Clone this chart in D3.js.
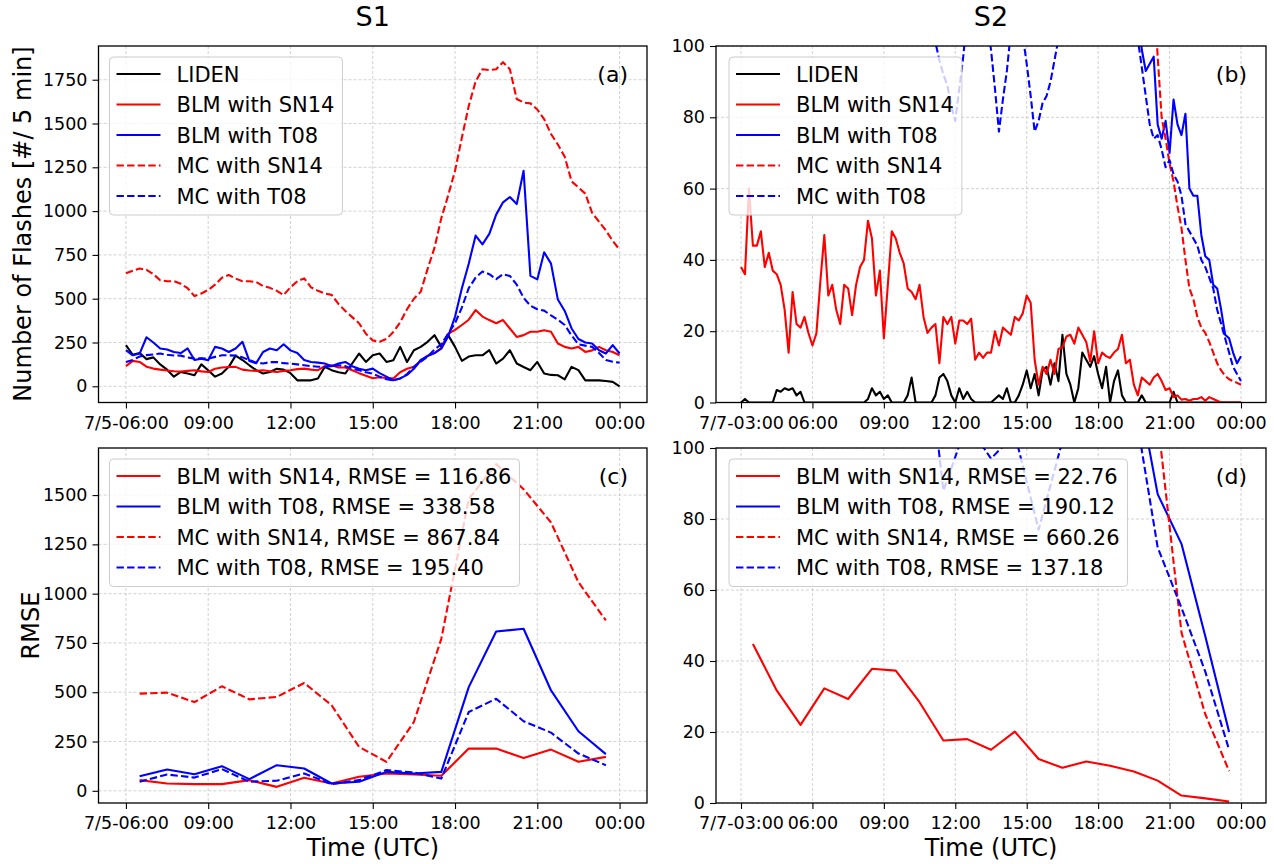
<!DOCTYPE html>
<html>
<head>
<meta charset="utf-8">
<script src="https://cdn.jsdelivr.net/npm/d3@7"></script>
<style>
  body { margin: 0; background: #fff; }
  text { font-family: "DejaVu Sans", sans-serif; fill: #000; }
</style>
</head>
<body>
<div id="chart"></div>
<script>
// ---------- data ----------
// S1: 15-min samples, 7/5 06:00 -> 7/6 00:00 (hours since 7/5 00:00)
const s1Start = 6, s1Step = 0.25;
const s1Liden = [235,180,190,155,165,125,95,55,82,73,63,125,92,55,73,111,175,150,120,92,73,82,100,95,
  75,34,34,34,45,111,92,80,73,130,187,139,177,187,139,149,225,139,206,225,254,292,225,292,
  225,145,170,177,177,206,130,158,206,130,110,92,139,73,65,63,40,111,92,34,34,34,30,25,0];
const s1BlmSn14 = [115,145,139,112,101,95,90,86,84,88,92,85,82,100,107,110,111,95,90,88,92,86,82,88,
  92,98,101,95,92,115,120,107,107,92,75,60,46,52,47,45,80,100,111,145,175,190,216,300,
  322,350,380,435,398,378,360,378,330,282,292,311,311,320,311,244,225,216,225,196,205,225,206,196,177];
const s1BlmT08 = [206,177,187,280,250,216,210,196,190,216,150,158,149,225,216,196,216,254,145,132,196,216,206,240,
  205,190,150,139,135,130,115,130,139,115,100,92,101,75,55,34,45,65,100,150,172,190,216,285,
  397,560,700,860,810,870,980,1050,1080,1040,1230,630,610,765,700,495,430,330,270,250,244,206,187,235,187];
const s1McSn14 = [645,660,672,665,640,605,600,600,585,560,515,530,550,580,620,635,615,600,600,595,572,562,545,521,
  565,600,616,565,545,530,522,470,430,395,360,300,262,254,270,310,365,440,500,540,670,790,960,1090,
  1230,1420,1600,1740,1810,1805,1810,1850,1810,1640,1620,1615,1580,1525,1440,1380,1310,1170,1135,1100,990,940,890,830,780];
const s1McT08 = [139,150,170,178,182,187,180,176,175,165,158,160,158,168,177,177,175,165,150,135,130,138,138,132,
  130,125,120,115,112,110,115,120,115,100,92,80,72,55,40,34,45,70,111,140,170,210,240,300,
  360,450,560,620,655,640,612,640,630,580,505,460,440,432,405,380,350,290,240,232,225,190,150,140,135];

// S2: 10-min samples, 7/7 03:00 -> 7/8 00:00 (hours since 7/7 00:00); null = off the top of the plot
const s2Start = 3, s2Step = 1 / 6;
const s2Liden = [0,1,0,0,0,0,0,0,0,3.5, 3,4,3.5,4,2,3,0,0,0,0, 0,0,0,0,0,0,0,0,0,0,
  0,0,1,4,2,3,1,2,0,0, 0,0,2,7,0,0,0,0,0,2, 7,8,6,2,0,4,1,3,1,0, 0,0,0,0,1,2,1,4,0,0,
  2,5,9,4,8,2,9,10,5,11, 6,19,8,5,0,4,14,12,10,13, 8,4,10,0,6,9,2,0,0,0,
  0,2,0,0,0,0,0,0,0,3, 0,0,0,0,0,0,0,0,0,0, 0,0,0,0,0,0,0];
const s2BlmSn14 = [38,36,60,44,44,48,38,42,37,36, 33,26,14,31,22,21,24,19.5,16,19.4,
  34,47,30,33,26,22,33,32,24.5,33, 38,40,51,46,30,37,18,33,48,46,
  42,39,32,31,29,33,24,19.5,21,22, 11,24,22,24,16.5,23,23,22,23.5,12,
  14,12.5,14,14,20,16,21,20,19,24, 23,25,30,28,12,5,10,8,12,8,
  15,15.5,18.5,19,16.5,21,19,17,11.5,20, 11,14,13,12.5,14,15,19,11,12,5,
  2,7,6,5,7,8,6,3.5,4,1.5, 2,0.8,1,0.5,1,1,1.5,0.5,1.5,1, 0.5,0,0,0,0,0,0];
const s2BlmT08 = Array(99).fill(null).concat([130,110,99,93,95,97,78,74,79,70,85,78,75,81,60,58,58,47,41,40,33,32,26,19,18,14,11,13]);
const s2McSn14 = Array(103).fill(null).concat([135,118,97,80,74,67,62,55,49,40,32,29,24,21,19.5,17,14,11,9,7.5,6.5,6,5.5,5]);
const s2McT08 = Array(48).fill(null).concat([115,101,96,92,89,83,79,88,97,108,120,118,115,110,106,99,88,76,85,93,
  104,112,110,103,95,86,76,79,84,86,90,96,102,115]).concat(Array(17).fill(null))
  .concat([115,102,94,86,78,74,75,71,66,68,64,62,58,50,48,46,44,40,38,35,32,26,22,18,14,10,8,6]);

// RMSE, hourly (centred on the half hour)
const c1Hours = [6.5,7.5,8.5,9.5,10.5,11.5,12.5,13.5,14.5,15.5,16.5,17.5,18.5,19.5,20.5,21.5,22.5,23.5];
const c1BlmSn14 = [54,37,34,34,54,20,66,37,71,88,83,76,214,214,167,209,147,172];
const c1BlmT08 = [74,108,84,125,59,130,113,37,46,96,88,96,526,808,822,509,302,186];
const c1McSn14 = [493,498,450,530,464,476,547,434,223,147,349,771,1480,1657,1530,1361,1058,864];
const c1McT08 = [46,83,67,110,46,51,88,34,54,105,93,62,400,467,353,295,189,130];

const c2Hours = [3.5,4.5,5.5,6.5,7.5,8.5,9.5,10.5,11.5,12.5,13.5,14.5,15.5,16.5,17.5,18.5,19.5,20.5,21.5,22.5,23.5];
const c2BlmSn14 = [44.8,31.7,22,32.3,29.3,37.8,37.3,28.4,17.6,18,15,20.1,12.4,9.9,11.7,10.5,8.9,6.3,2.1,1.3,0.4];
const c2BlmT08 = [null,null,null,null,null,null,null,null,null,null,null,null,null,null,null,null,123,87,73,47,20];
const c2McSn14 = [null,null,null,null,null,null,null,null,null,null,null,null,null,null,null,null,null,108,48,25,9];
const c2McT08 = [null,null,null,null,null,null,null,147,88,107,97,104,77,102,140,160,113,72,55,37,15];

const s1TickHours = [6, 9, 12, 15, 18, 21, 24];
const s1TickLabels = ["7/5-06:00", "09:00", "12:00", "15:00", "18:00", "21:00", "00:00"];
const s2TickHours = [3, 6, 9, 12, 15, 18, 21, 24];
const s2TickLabels = ["7/7-03:00", "06:00", "09:00", "12:00", "15:00", "18:00", "21:00", "00:00"];

const RED = "#ff0000", BLUE = "#0000ff", BLACK = "#000000";
const DASH = "7.4,3.2";

function grid(start, step, values) {
    return values.map((v, i) => ({ t: start + i * step, v: v }));
}
function pairs(hours, values) {
    return hours.map((h, i) => ({ t: h, v: values[i] }));
}

// ---------- drawing ----------
const svg = d3.select("#chart").append("svg")
    .attr("width", 1274)
    .attr("height", 864);

Panel = function(cfg) {
    this.cfg = cfg;
    this.initVis();
};

Panel.prototype.initVis = function() {
    var vis = this;
    const c = vis.cfg;

    vis.width = c.right - c.left;
    vis.height = c.bottom - c.top;

    let yDomain = c.yDomain;
    if (!yDomain) {
        const all = [];
        c.series.forEach(s => s.data.forEach(d => { if (d.v != null) all.push(d.v); }));
        const ext = d3.extent(all);
        const pad = (ext[1] - ext[0]) * 0.05;
        yDomain = [ext[0] - pad, ext[1] + pad];
    }

    vis.x = d3.scaleLinear().domain(c.xDomain).range([0, vis.width]);
    vis.y = d3.scaleLinear().domain(yDomain).range([vis.height, 0]);

    vis.g = svg.append("g").attr("transform", `translate(${c.left},${c.top})`);

    vis.g.append("clipPath").attr("id", "clip-" + c.id)
        .append("rect").attr("width", vis.width).attr("height", vis.height);

    // grid
    vis.g.append("g").selectAll("line.gx")
        .data(c.xTicks).join("line")
        .attr("x1", d => vis.x(d)).attr("x2", d => vis.x(d))
        .attr("y1", 0).attr("y2", vis.height)
        .attr("stroke", "#b0b0b0").attr("stroke-width", 0.8)
        .attr("stroke-dasharray", "3,2").attr("opacity", 0.7);
    vis.g.append("g").selectAll("line.gy")
        .data(c.yTicks).join("line")
        .attr("y1", d => vis.y(d)).attr("y2", d => vis.y(d))
        .attr("x1", 0).attr("x2", vis.width)
        .attr("stroke", "#b0b0b0").attr("stroke-width", 0.8)
        .attr("stroke-dasharray", "3,2").attr("opacity", 0.7);

    // lines
    const line = d3.line()
        .defined(d => d.v != null)
        .x(d => vis.x(d.t))
        .y(d => vis.y(d.v));

    vis.g.append("g").attr("clip-path", `url(#clip-${c.id})`)
        .selectAll("path")
        .data(c.series).join("path")
        .attr("d", d => line(d.data))
        .attr("fill", "none")
        .attr("stroke", d => d.color)
        .attr("stroke-width", 2.1)
        .attr("stroke-linejoin", "round")
        .attr("stroke-dasharray", d => d.dash ? DASH : null);

    // axes
    const xAxis = d3.axisBottom(vis.x)
        .tickValues(c.xTicks)
        .tickFormat((d, i) => c.xLabels[i])
        .tickSize(6).tickPadding(8);
    const yAxis = d3.axisLeft(vis.y)
        .tickValues(c.yTicks)
        .tickFormat(d3.format("d"))
        .tickSize(6).tickPadding(5);

    const gx = vis.g.append("g").attr("transform", `translate(0,${vis.height})`).call(xAxis);
    const gy = vis.g.append("g").call(yAxis);
    [gx, gy].forEach(a => {
        a.select(".domain").remove();
        a.selectAll(".tick line").attr("stroke", "#000").attr("stroke-width", 1.1);
        a.selectAll(".tick text").attr("font-size", "17.5px").attr("font-family", "DejaVu Sans").attr("fill", "#000");
    });

    // frame
    vis.g.append("rect")
        .attr("width", vis.width).attr("height", vis.height)
        .attr("fill", "none").attr("stroke", "#000").attr("stroke-width", 1.3);

    // legend
    const lg = vis.g.append("g").attr("transform", `translate(${c.legendX},11)`);
    const box = lg.append("rect")
        .attr("rx", 4).attr("ry", 4)
        .attr("fill", "#fff").attr("fill-opacity", 0.8)
        .attr("stroke", "#cccccc").attr("stroke-width", 1);
    const rows = lg.selectAll("g.row")
        .data(c.series).join("g")
        .attr("transform", (d, i) => `translate(0,${17 + i * 30.5})`);
    rows.append("line")
        .attr("x1", 7).attr("x2", 51)
        .attr("stroke", d => d.color).attr("stroke-width", 2.1)
        .attr("stroke-dasharray", d => d.dash ? DASH : null);
    const texts = rows.append("text")
        .attr("x", 67).attr("dy", "0.36em")
        .attr("font-size", "21px")
        .text(d => d.label);
    let maxW = 0;
    texts.each(function() { maxW = Math.max(maxW, this.getComputedTextLength()); });
    box.attr("width", 67 + maxW + 8).attr("height", 17 + (c.series.length - 1) * 30.5 + 19);

    // panel letter
    vis.g.append("text")
        .attr("x", vis.width - 19).attr("y", 28)
        .attr("dy", "0.36em")
        .attr("text-anchor", "end")
        .attr("font-size", "22px")
        .text(c.letter);
};

const s1Domain = [5, 25];
const s2Domain = [1.95, 25.05];

new Panel({
    id: "a", left: 98.5, right: 647, top: 46, bottom: 402.5, legendX: 11,
    xDomain: s1Domain, xTicks: s1TickHours, xLabels: s1TickLabels,
    yTicks: d3.range(0, 1751, 250), letter: "(a)",
    series: [
        { label: "LIDEN", color: BLACK, data: grid(s1Start, s1Step, s1Liden) },
        { label: "BLM with SN14", color: RED, data: grid(s1Start, s1Step, s1BlmSn14) },
        { label: "BLM with T08", color: BLUE, data: grid(s1Start, s1Step, s1BlmT08) },
        { label: "MC with SN14", color: RED, dash: true, data: grid(s1Start, s1Step, s1McSn14) },
        { label: "MC with T08", color: BLUE, dash: true, data: grid(s1Start, s1Step, s1McT08) }
    ]
});

new Panel({
    id: "b", left: 716, right: 1266, top: 46, bottom: 402.5, legendX: 13,
    xDomain: s2Domain, xTicks: s2TickHours, xLabels: s2TickLabels,
    yDomain: [0, 100], yTicks: d3.range(0, 101, 20), letter: "(b)",
    series: [
        { label: "LIDEN", color: BLACK, data: grid(s2Start, s2Step, s2Liden) },
        { label: "BLM with SN14", color: RED, data: grid(s2Start, s2Step, s2BlmSn14) },
        { label: "BLM with T08", color: BLUE, data: grid(s2Start, s2Step, s2BlmT08) },
        { label: "MC with SN14", color: RED, dash: true, data: grid(s2Start, s2Step, s2McSn14) },
        { label: "MC with T08", color: BLUE, dash: true, data: grid(s2Start, s2Step, s2McT08) }
    ]
});

new Panel({
    id: "c", left: 98.5, right: 647, top: 448, bottom: 803, legendX: 11,
    xDomain: s1Domain, xTicks: s1TickHours, xLabels: s1TickLabels,
    yTicks: d3.range(0, 1501, 250), letter: "(c)",
    series: [
        { label: "BLM with SN14, RMSE = 116.86", color: RED, data: pairs(c1Hours, c1BlmSn14) },
        { label: "BLM with T08, RMSE = 338.58", color: BLUE, data: pairs(c1Hours, c1BlmT08) },
        { label: "MC with SN14, RMSE = 867.84", color: RED, dash: true, data: pairs(c1Hours, c1McSn14) },
        { label: "MC with T08, RMSE = 195.40", color: BLUE, dash: true, data: pairs(c1Hours, c1McT08) }
    ]
});

new Panel({
    id: "d", left: 716, right: 1266, top: 448, bottom: 803, legendX: 13,
    xDomain: s2Domain, xTicks: s2TickHours, xLabels: s2TickLabels,
    yDomain: [0, 100], yTicks: d3.range(0, 101, 20), letter: "(d)",
    series: [
        { label: "BLM with SN14, RMSE = 22.76", color: RED, data: pairs(c2Hours, c2BlmSn14) },
        { label: "BLM with T08, RMSE = 190.12", color: BLUE, data: pairs(c2Hours, c2BlmT08) },
        { label: "MC with SN14, RMSE = 660.26", color: RED, dash: true, data: pairs(c2Hours, c2McSn14) },
        { label: "MC with T08, RMSE = 137.18", color: BLUE, dash: true, data: pairs(c2Hours, c2McT08) }
    ]
});

// titles and axis labels
svg.append("text").attr("x", 372.75).attr("y", 16).attr("dy", "0.36em")
    .attr("text-anchor", "middle").attr("font-size", "27px").text("S1");
svg.append("text").attr("x", 991).attr("y", 16).attr("dy", "0.36em")
    .attr("text-anchor", "middle").attr("font-size", "27px").text("S2");
svg.append("text").attr("x", 372.75).attr("y", 847).attr("dy", "0.36em")
    .attr("text-anchor", "middle").attr("font-size", "24px").text("Time (UTC)");
svg.append("text").attr("x", 991).attr("y", 847).attr("dy", "0.36em")
    .attr("text-anchor", "middle").attr("font-size", "24px").text("Time (UTC)");
svg.append("text").attr("transform", "translate(22,224) rotate(-90)").attr("dy", "0.36em")
    .attr("text-anchor", "middle").attr("font-size", "24px").text("Number of Flashes [#/ 5 min]");
svg.append("text").attr("transform", "translate(30,625.5) rotate(-90)").attr("dy", "0.36em")
    .attr("text-anchor", "middle").attr("font-size", "24px").text("RMSE");
</script>
</body>
</html>
